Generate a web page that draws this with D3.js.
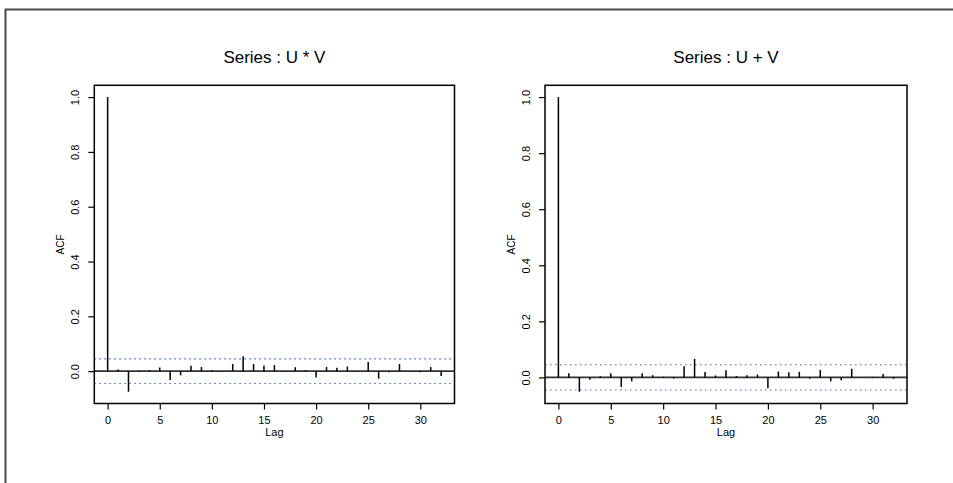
<!DOCTYPE html>
<html>
<head>
<meta charset="utf-8">
<script src="https://cdn.jsdelivr.net/npm/d3@7"></script>
<style>
body { margin: 0; background: #fff; overflow: hidden; }
svg { display: block; font-family: "Liberation Sans", Arial, sans-serif; }
</style>
</head>
<body>
<svg id="chart" width="953" height="483"></svg>
<script>
// lags 0..32 for both series
const lags = d3.range(0, 33);
const acfUV = [1.0, 0.006, -0.075, 0.002, 0.004, 0.013, -0.032, -0.015, 0.020, 0.015, 0.003, -0.002,
	0.026, 0.054, 0.026, 0.021, 0.022, -0.002, 0.014, 0.004, -0.023, 0.015, 0.012, 0.017,
	-0.003, 0.033, -0.028, -0.004, 0.026, -0.003, -0.004, 0.015, -0.018];
const acfUplusV = [1.0, 0.015, -0.051, -0.008, 0.004, 0.015, -0.034, -0.014, 0.015, 0.008, 0.002, -0.004,
	0.040, 0.066, 0.019, 0.007, 0.026, 0.005, 0.008, 0.010, -0.039, 0.021, 0.018, 0.020,
	-0.005, 0.027, -0.014, -0.010, 0.031, -0.001, 0.002, 0.012, -0.005];
const confBound = 0.045;
const xTicks = [0, 5, 10, 15, 20, 25, 30];
const yTicks = [0, 0.2, 0.4, 0.6, 0.8, 1.0];

const panels = [
	{title: 'Series : U * V', values: acfUV, left: 94.3, right: 454.5},
	{title: 'Series : U + V', values: acfUplusV, left: 545, right: 907}
];
const plotTop = 85.3, plotBottom = 403.5;

const svg = d3.select('#chart');

// outer frame (top and left edges only visible)
svg.append('path')
	.attr('d', 'M5.5,483 L5.5,9.5 L953,9.5')
	.attr('fill', 'none')
	.attr('stroke', '#4a4a4a')
	.attr('stroke-width', 2);

// R style 4% axis extension
function padded(lo, hi) {
	const r = hi - lo;
	return [lo - 0.04 * r, hi + 0.04 * r];
}

panels.forEach(p => {
	const g = svg.append('g');
	const x = d3.scaleLinear().domain(padded(0, lags[lags.length - 1])).range([p.left, p.right]);
	const lo = Math.min(d3.min(p.values), -confBound);
	const hi = Math.max(d3.max(p.values), confBound);
	const y = d3.scaleLinear().domain(padded(lo, hi)).range([plotBottom, plotTop]);

	// confidence bands
	[confBound, -confBound].forEach(c => {
		g.append('line')
			.attr('x1', p.left).attr('x2', p.right)
			.attr('y1', y(c)).attr('y2', y(c))
			.attr('stroke', '#3a6cb0')
			.attr('stroke-width', 1.1)
			.attr('stroke-dasharray', '1.5,3.5');
	});

	// zero line
	g.append('line')
		.attr('x1', p.left).attr('x2', p.right)
		.attr('y1', y(0)).attr('y2', y(0))
		.attr('stroke', '#333')
		.attr('stroke-width', 1.6);

	// acf spikes
	g.selectAll('.spike').data(p.values).enter().append('line')
		.attr('class', 'spike')
		.attr('x1', (d, i) => x(lags[i])).attr('x2', (d, i) => x(lags[i]))
		.attr('y1', y(0)).attr('y2', d => y(d))
		.attr('stroke', '#000')
		.attr('stroke-width', 1.5);

	// box
	g.append('rect')
		.attr('x', p.left).attr('y', plotTop)
		.attr('width', p.right - p.left).attr('height', plotBottom - plotTop)
		.attr('fill', 'none')
		.attr('stroke', '#000')
		.attr('stroke-width', 1.5);

	// x axis
	const xAxis = g.append('g')
		.attr('transform', `translate(0,${plotBottom})`)
		.call(d3.axisBottom(x).tickValues(xTicks).tickSize(6).tickPadding(7).tickSizeOuter(0));
	xAxis.select('.domain').remove();
	xAxis.attr('font-family', null);
	xAxis.selectAll('line').attr('stroke', '#000').attr('stroke-width', 1.2);
	xAxis.selectAll('text').attr('font-size', 11).attr('fill', '#000');

	// y axis, labels parallel to axis
	const yAxis = g.append('g')
		.attr('transform', `translate(${p.left},0)`)
		.call(d3.axisLeft(y).tickValues(yTicks).tickSize(6).tickFormat(d3.format('.1f')));
	yAxis.select('.domain').remove();
	yAxis.attr('font-family', null);
	yAxis.selectAll('line').attr('stroke', '#000').attr('stroke-width', 1.2);
	yAxis.selectAll('text')
		.attr('font-size', 11).attr('fill', '#000')
		.attr('x', null).attr('dy', '0.35em')
		.attr('text-anchor', 'middle')
		.attr('transform', 'translate(-19,0) rotate(-90)');

	// titles and axis labels
	g.append('text')
		.attr('x', (p.left + p.right) / 2).attr('y', 63)
		.attr('text-anchor', 'middle')
		.attr('font-size', 17)
		.text(p.title);
	g.append('text')
		.attr('x', (p.left + p.right) / 2).attr('y', plotBottom + 32)
		.attr('text-anchor', 'middle')
		.attr('font-size', 11)
		.text('Lag');
	g.append('text')
		.attr('transform', `translate(${p.left - 30},${(plotTop + plotBottom) / 2}) rotate(-90)`)
		.attr('text-anchor', 'middle')
		.attr('font-size', 10)
		.text('ACF');
});
</script>
</body>
</html>
